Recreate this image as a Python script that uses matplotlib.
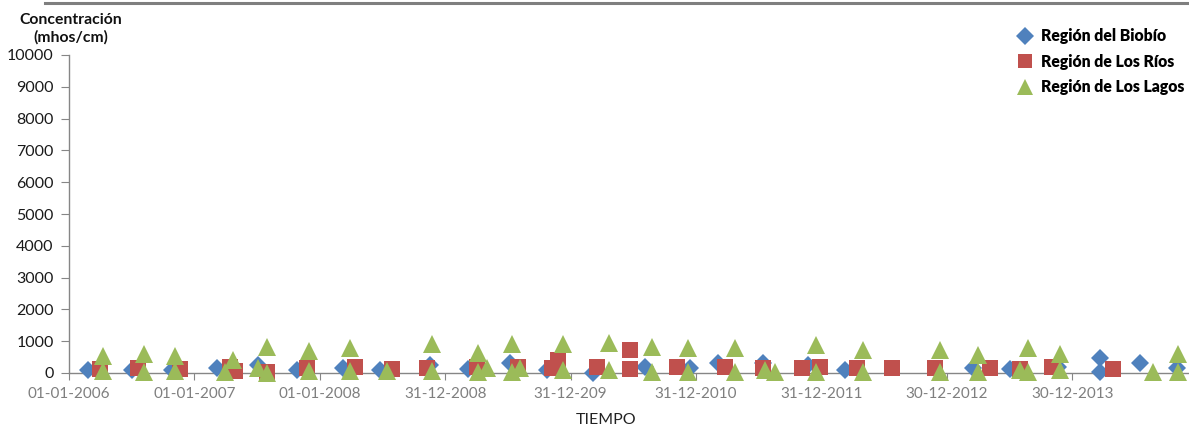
import matplotlib
matplotlib.use("Agg")
import matplotlib.pyplot as plt
import numpy as np
import pandas as pd
from matplotlib.lines import Line2D

# ---------------- data ----------------
biobio_dates = ["2006-02-25", "2006-07-03", "2006-10-28", "2007-03-08", "2007-07-05",
                "2007-10-27", "2008-03-09", "2008-06-24", "2008-11-17", "2009-03-07",
                "2009-07-08", "2009-10-23", "2010-03-06", "2010-08-05", "2010-12-14",
                "2011-03-05", "2011-07-14", "2011-11-22", "2012-03-09", "2013-03-17",
                "2013-07-02", "2013-11-19", "2014-03-21", "2014-03-21", "2014-07-16",
                "2014-10-31"]
biobio_vals = [100, 100, 80, 150, 250,
               100, 150, 100, 250, 120,
               300, 100, 0, 200, 150,
               300, 300, 250, 100, 150,
               130, 200, 470, 30, 300,
               150]

rios_dates = ["2006-04-01", "2006-07-21", "2006-11-20", "2007-04-15", "2007-04-29",
              "2007-07-31", "2007-11-25", "2008-04-13", "2008-07-29", "2008-11-08",
              "2009-04-03", "2009-07-31", "2009-11-07", "2009-11-24", "2010-03-18",
              "2010-06-22", "2010-06-22", "2010-11-06", "2011-03-26", "2011-07-14",
              "2011-11-05", "2011-12-27", "2012-04-13", "2012-07-24", "2012-11-26",
              "2013-05-05", "2013-07-31", "2013-11-02", "2014-04-28"]
rios_vals = [130, 150, 130, 200, 50,
             30, 150, 180, 140, 150,
             200, 200, 150, 400, 200,
             720, 130, 200, 200, 150,
             150, 200, 150, 150, 150,
             150, 130, 200, 130]

lagos_dates = ["2006-04-10", "2006-04-10", "2006-08-07", "2006-08-07", "2006-11-06",
               "2006-11-06", "2007-03-31", "2007-04-23", "2007-07-05", "2007-07-31",
               "2007-07-31", "2007-11-30", "2007-11-30", "2008-03-29", "2008-03-29",
               "2008-07-15", "2008-11-23", "2008-11-23", "2009-04-06", "2009-04-06",
               "2009-05-02", "2009-07-14", "2009-07-14", "2009-08-06", "2009-12-09",
               "2009-12-09", "2010-04-22", "2010-04-22", "2010-08-25", "2010-08-25",
               "2010-12-08", "2010-12-08", "2011-04-24", "2011-04-24", "2011-07-20",
               "2011-08-18", "2011-12-16", "2011-12-16", "2012-04-30", "2012-04-30",
               "2012-12-11", "2012-12-11", "2013-03-31", "2013-03-31", "2013-07-31",
               "2013-08-24", "2013-08-24", "2013-11-25", "2013-11-25", "2014-08-23",
               "2014-11-03", "2014-11-03"]
lagos_vals = [530, 60, 600, 30, 530,
              50, 30, 400, 150, 820,
              0, 680, 50, 780, 50,
              50, 900, 50, 630, 30,
              150, 900, 30, 150, 900,
              100, 950, 100, 820, 30,
              800, 30, 780, 30, 100,
              30, 880, 30, 720, 30,
              720, 30, 560, 30, 100,
              780, 30, 600, 100, 30,
              600, 30]

tick_labels = ["01-01-2006", "01-01-2007", "01-01-2008", "31-12-2008", "31-12-209",
               "31-12-2010", "31-12-2011", "30-12-2012", "30-12-2013"]
series_names = ["Región del Biobío", "Región de Los Ríos", "Región de Los Lagos"]
y_ticks = [0, 1000, 2000, 3000, 4000, 5000, 6000, 7000, 8000, 9000, 10000]

# ---------------- style ----------------
FONT = ["Lato", "DejaVu Sans"]
plt.rcParams['font.family'] = FONT
c_blue, c_red, c_green = "#4F81BD", "#C0504D", "#9BBB59"
grey = "#868686"

W, H = 1189, 425
fig = plt.figure(figsize=(W / 100, H / 100), dpi=100)
x0, x1 = 69, 1189
y_top, y_bot = 55, 373
ax = fig.add_axes([x0 / W, 1 - y_bot / H, (x1 - x0) / W, (y_bot - y_top) / H])

start = pd.Timestamp("2006-01-01")
tick_dates = [start + pd.Timedelta(days=365 * i) for i in range(len(tick_labels))]
xmax = start + pd.Timedelta(days=(x1 - x0) / 125.4 * 365)

ax.plot(pd.to_datetime(biobio_dates), biobio_vals, ls='none', marker='D', ms=9.3,
        color=c_blue, mew=0, clip_on=False, zorder=3)
ax.plot(pd.to_datetime(rios_dates), rios_vals, ls='none', marker='s', ms=11.5,
        color=c_red, mew=0, clip_on=False, zorder=4)
ax.plot(pd.to_datetime(lagos_dates), lagos_vals, ls='none', marker='^', ms=13.5,
        color=c_green, mew=0, clip_on=False, zorder=5)

ax.set_xlim(start, xmax)
ax.set_ylim(0, 10000)
ax.set_xticks(tick_dates)
ax.set_xticklabels(tick_labels)
ax.set_yticks(y_ticks)
ax.set_yticklabels([str(v) for v in y_ticks])

for s in ['top', 'right']:
    ax.spines[s].set_visible(False)
for s in ['left', 'bottom']:
    ax.spines[s].set_color(grey)
    ax.spines[s].set_linewidth(1.0)
ax.tick_params(axis='x', direction='out', length=5, color=grey, labelcolor="#7f7f7f",
               labelsize=11, pad=5)
ax.tick_params(axis='y', direction='out', length=6, color=grey, labelcolor="#1a1a1a",
               labelsize=11.5, pad=5)

# y-axis title
fig.text(71 / W, 1 - 20 / H, "Concentración", ha='center', va='center',
         fontsize=11.3, fontweight='bold', color="#111111")
fig.text(71 / W, 1 - 37 / H, "(mhos/cm)", ha='center', va='center',
         fontsize=11.3, fontweight='bold', color="#111111")

# x-axis title
fig.text(606 / W, 1 - 420 / H, "TIEMPO", ha='center', va='center',
         fontsize=11.5, color="#222222")

# top decorative line
fig.add_artist(Line2D([45 / W, 1.0], [1 - 3 / H, 1 - 3 / H], transform=fig.transFigure,
                      color="#7f7f7f", lw=2.2))

# legend
handles = [Line2D([], [], ls='none', marker='D', ms=9, color=c_blue, mew=0),
           Line2D([], [], ls='none', marker='s', ms=10.5, color=c_red, mew=0),
           Line2D([], [], ls='none', marker='^', ms=12, color=c_green, mew=0)]
leg = fig.legend(handles, series_names, loc='upper left',
                 bbox_to_anchor=(1017 / W, 1 - 28 / H), frameon=False,
                 prop={'family': FONT, 'weight': 'heavy', 'size': 11.3},
                 handlelength=1.0, handletextpad=0.55, labelspacing=0.62,
                 borderaxespad=0, borderpad=0)

fig.savefig("out.png", dpi=100)
